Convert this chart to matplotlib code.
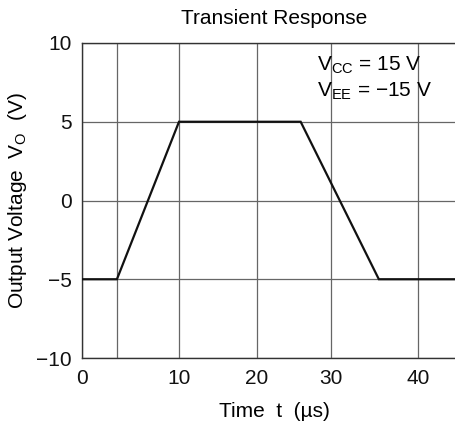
import matplotlib
matplotlib.use("Agg")
import matplotlib.pyplot as plt
import numpy as np

plt.rcParams["font.family"] = ["Liberation Sans", "DejaVu Sans"]
plt.rcParams["axes.unicode_minus"] = True

# waveform (time in us, output in V)
time_us = [0, 3.6, 10, 25.9, 35.5, 46]
v_out = [-5, -5, 5, 5, -5, -5]

x_ticks = [0, 10, 20, 30, 40]
x_extra_grid = [3.6]
y_ticks = [-10, -5, 0, 5, 10]

# the datasheet grid is not evenly spaced; map time -> drawn position
time_breaks = [0, 10, 20, 30, 40, 50]
pos_breaks = [0, 97, 175, 249, 336, 423]


def forward(t):
    return np.interp(t, time_breaks, pos_breaks)


def inverse(p):
    return np.interp(p, pos_breaks, time_breaks)


fs = 15
grid_color = "#666666"

fig = plt.figure(figsize=(4.55, 4.33), dpi=100)
ax = fig.add_axes([82 / 455, 75 / 433, 385 / 455, 315 / 433])
ax.set_xscale("function", functions=(forward, inverse))

ax.plot(time_us, v_out, color="#111111", lw=1.6, solid_joinstyle="miter", zorder=3)

ax.set_xlim(0, inverse(385))
ax.set_ylim(-10, 10)
ax.set_xticks(x_ticks)
ax.set_xticks(x_extra_grid, minor=True)
ax.set_yticks(y_ticks)
ax.set_yticklabels([f"{v:d}".replace("-", "\u2212") for v in y_ticks])
ax.xaxis.set_minor_formatter(plt.NullFormatter())
ax.tick_params(which="both", length=0, labelsize=fs, colors="#111111")
ax.tick_params(axis="x", pad=8)
ax.tick_params(axis="y", pad=7.5)
ax.grid(which="both", color=grid_color, lw=0.9)

for side in ["left", "bottom", "top", "right"]:
    ax.spines[side].set_color("#333333")
    ax.spines[side].set_linewidth(1.0)

ax.set_title("Transient Response", fontsize=fs, pad=14)
ax.set_xlabel("Time  t  (\u00b5s)", fontsize=fs, labelpad=10)
ax.set_ylabel(r"Output Voltage  V$_\mathregular{O}$  (V)", fontsize=fs, labelpad=5)

ax.text(0.61, 0.914, r"V$_\mathregular{CC}$ = 15 V", transform=ax.transAxes,
        fontsize=fs, va="baseline", ha="left")
ax.text(0.61, 0.832, "V$_\\mathregular{EE}$ = \u221215 V",
        transform=ax.transAxes, fontsize=fs, va="baseline", ha="left")

fig.savefig("out.png", dpi=100)
